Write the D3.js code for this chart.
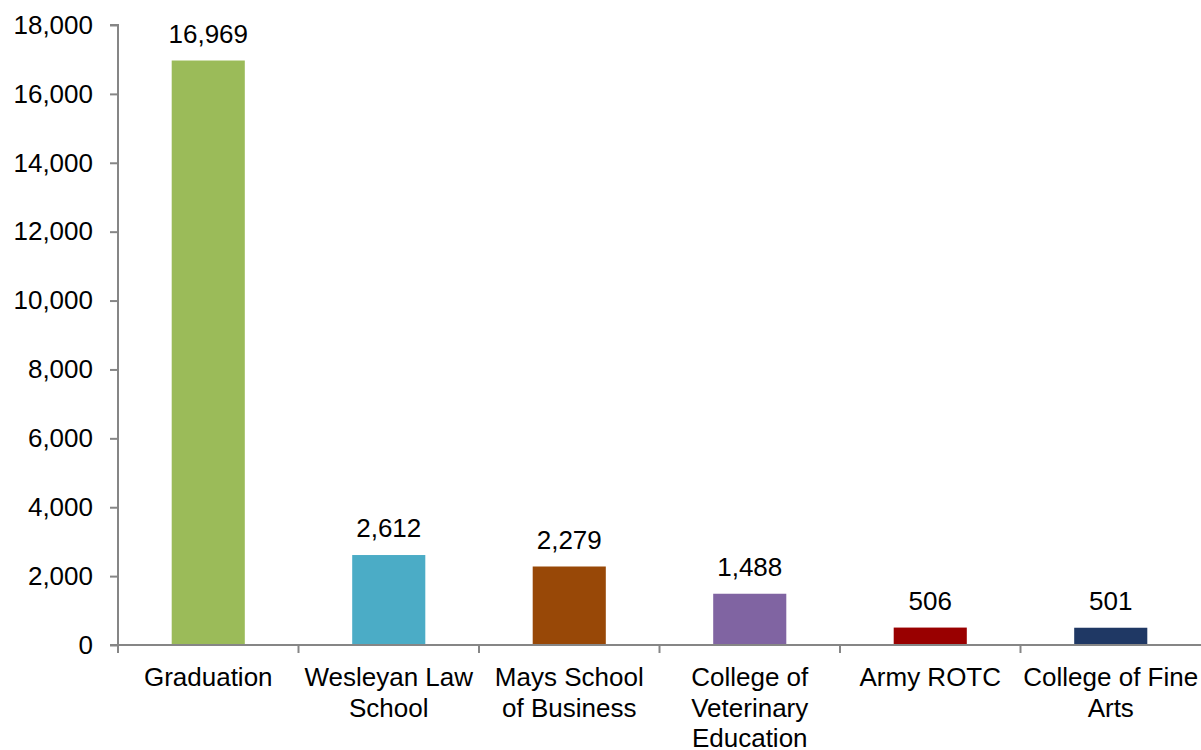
<!DOCTYPE html>
<html>
<head>
<meta charset="utf-8">
<script src="https://cdn.jsdelivr.net/npm/d3@7"></script>
<style>
  html, body { margin: 0; padding: 0; background: #fff; }
  svg { display: block; }
  text { font-family: "Liberation Sans", Arial, sans-serif; fill: #000; }
</style>
</head>
<body>
<svg id="chart" width="1201" height="750"></svg>
<script>
const categories = ["Graduation", "Wesleyan Law School", "Mays School of Business", "College of Veterinary Education", "Army ROTC", "College of Fine Arts"];
const categoryLines = [["Graduation"], ["Wesleyan Law", "School"], ["Mays School", "of Business"], ["College of", "Veterinary", "Education"], ["Army ROTC"], ["College of Fine", "Arts"]];
const values = [16969, 2612, 2279, 1488, 506, 501];
const colors = ["#9BBB59", "#4BACC6", "#984807", "#8064A2", "#990000", "#1F3864"];
const yTicks = [0, 2000, 4000, 6000, 8000, 10000, 12000, 14000, 16000, 18000];

(function () {
const svg = d3.select("#chart");
const mLeft = 118, mRight = 1201, mTop = 25, mBottom = 645;
const fontSize = 26;

const x = d3.scaleBand().domain(categories).range([mLeft, mRight]).paddingInner(0).paddingOuter(0);
const y = d3.scaleLinear().domain([0, 18000]).range([mBottom, mTop]);
const barW = x.bandwidth() * 0.405;
const fmt = d3.format(",");
const axisColor = "#868686";

// bars
svg.append("g").selectAll("rect").data(values).join("rect")
  .attr("x", (d, i) => x(categories[i]) + (x.bandwidth() - barW) / 2)
  .attr("y", d => y(d))
  .attr("width", barW)
  .attr("height", d => y(0) - y(d))
  .attr("fill", (d, i) => colors[i]);

// value labels
svg.append("g").selectAll("text").data(values).join("text")
  .attr("x", (d, i) => x(categories[i]) + x.bandwidth() / 2)
  .attr("y", d => y(d) - 18)
  .attr("text-anchor", "middle")
  .style("font-size", fontSize + "px")
  .text(d => fmt(d));

// y axis
const yAxis = d3.axisLeft(y).tickValues(yTicks).tickFormat(fmt).tickSize(8).tickPadding(17);
const gy = svg.append("g").attr("transform", `translate(${mLeft},0)`).call(yAxis);
gy.attr("font-family", null).attr("font-size", null);
gy.select(".domain").attr("stroke", axisColor).attr("stroke-width", 2).attr("d", `M-8,${mTop}H0V${mBottom}`);
gy.selectAll(".tick line").attr("stroke", axisColor).attr("stroke-width", 2);
gy.selectAll(".tick text").style("font-size", fontSize + "px").attr("fill", "#000");

// x axis
const gx = svg.append("g").attr("transform", `translate(0,${mBottom})`);
gx.append("line").attr("x1", mLeft - 8).attr("x2", mRight).attr("y1", 0).attr("y2", 0)
  .attr("stroke", axisColor).attr("stroke-width", 2);
gx.selectAll("line.tk").data(categories).join("line").attr("class", "tk")
  .attr("x1", d => x(d)).attr("x2", d => x(d)).attr("y1", 0).attr("y2", 8)
  .attr("stroke", axisColor).attr("stroke-width", 2);

// x labels
const lbl = gx.selectAll("text.cat").data(categories).join("text").attr("class", "cat")
  .attr("text-anchor", "middle")
  .style("font-size", fontSize + "px");
lbl.each(function (d, i) {
  const t = d3.select(this);
  categoryLines[i].forEach((ln, j) => {
    t.append("tspan").attr("x", x(d) + x.bandwidth() / 2).attr("y", 41 + j * 30.5).text(ln);
  });
});
})();
</script>
</body>
</html>
